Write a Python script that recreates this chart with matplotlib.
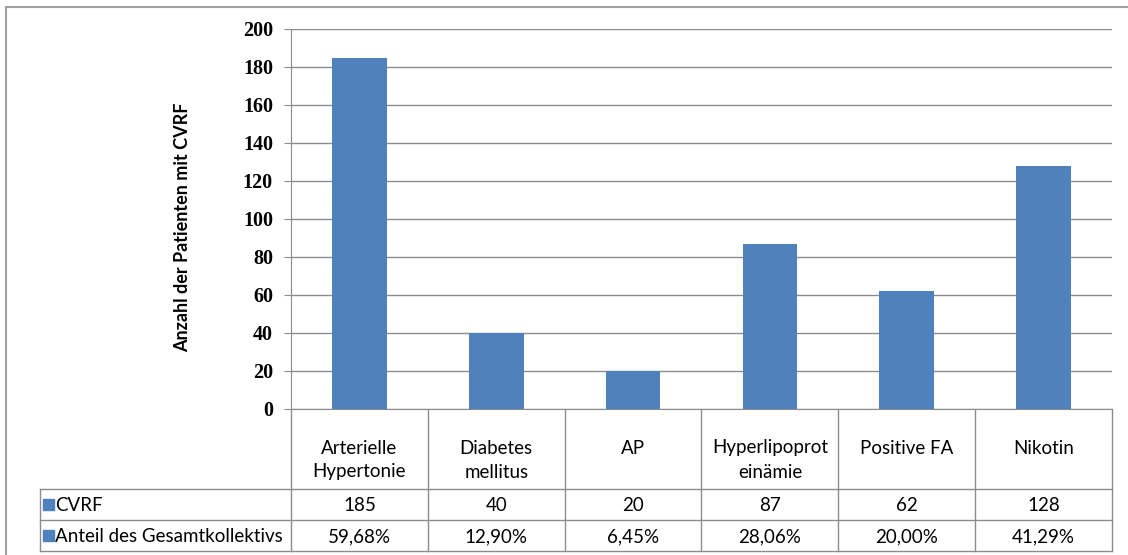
import matplotlib
matplotlib.use('Agg')
import matplotlib.pyplot as plt
from matplotlib.transforms import blended_transform_factory
from matplotlib.patches import Rectangle

# risk factor counts and share of the whole cohort
categories = ['Arterielle\nHypertonie', 'Diabetes\nmellitus', 'AP',
              'Hyperlipoprot\neinämie', 'Positive FA', 'Nikotin']
cvrf = [185, 40, 20, 87, 62, 128]
anteil = ['59,68%', '12,90%', '6,45%', '28,06%', '20,00%', '41,29%']
row_labels = ['CVRF', 'Anteil des Gesamtkollektivs']
yticks = [0, 20, 40, 60, 80, 100, 120, 140, 160, 180, 200]

W, H = 1128, 555
blue = '#4F81BD'
grid = '#8C8C8C'
txt_font = 'Lato'
fs = 13.5

fig = plt.figure(figsize=(W / 100, H / 100), dpi=100)

# overlay in pixel units for the frame and the data table
tab = fig.add_axes([0, 0, 1, 1])
tab.set_xlim(0, W)
tab.set_ylim(H, 0)
tab.axis('off')

ax = fig.add_axes([291 / W, 1 - 409 / H, (1112 - 291) / W, (409 - 29) / H])
x = list(range(len(cvrf)))
ax.bar(x, cvrf, width=0.4, color=blue, zorder=3)
ax.set_xlim(-0.5, len(cvrf) - 0.5)
ax.set_ylim(0, 200)
ax.set_yticks(yticks)
ax.set_yticklabels([str(t) for t in yticks], family='Liberation Serif',
                   weight='bold', fontsize=14.5)
ax.tick_params(axis='y', length=5, color=grid, pad=8)
ax.tick_params(axis='x', length=0, labelbottom=False)
ax.yaxis.grid(True, color=grid, linewidth=1)
ax.set_axisbelow(True)
for s in ['top', 'right']:
    ax.spines[s].set_visible(False)
for s in ['left', 'bottom']:
    ax.spines[s].set_color(grid)
ax.set_ylabel('Anzahl der Patienten mit CVRF', family=txt_font,
              weight='bold', fontsize=13)
ax.yaxis.set_label_coords(-0.122, 0.479)

# outer chart frame
tab.plot([6, 6], [7, H], color='#A0A0A0', lw=1.5)
tab.plot([6, W], [7, 7], color='#A0A0A0', lw=1.5)

# data table below the axis
bt = blended_transform_factory(ax.transData, tab.transData)
y_head, y_r1, y_r2, y_bot = 409, 489, 520, 551
n = len(cvrf)
lc = '#8C8C8C'
for i in range(n + 1):
    tab.plot([i - 0.5, i - 0.5], [y_head, y_bot], color=lc, lw=1,
             transform=bt, clip_on=False)
for yy in (y_r1, y_r2, y_bot):
    tab.plot([40, 1112], [yy, yy], color=lc, lw=1, clip_on=False)
tab.plot([40, 40], [y_r1, y_bot], color=lc, lw=1)

for i, lab in enumerate(categories):
    for k, line in enumerate(lab.split('\n')):
        tab.text(i, 448 + 24 * k, line, transform=bt, ha='center',
                 va='center', fontsize=fs, family=txt_font)
    tab.text(i, (y_r1 + y_r2) / 2 + 1, str(cvrf[i]), transform=bt,
             ha='center', va='center', fontsize=fs, family=txt_font)
    tab.text(i, (y_r2 + y_bot) / 2 + 1, anteil[i], transform=bt,
             ha='center', va='center', fontsize=fs, family=txt_font)

for yy0, yy1, lab in [(y_r1, y_r2, row_labels[0]), (y_r2, y_bot, row_labels[1])]:
    yc = (yy0 + yy1) / 2
    tab.add_patch(Rectangle((43, yc - 5.5), 11, 11, color=blue))
    tab.text(55, yc + 1, lab, ha='left', va='center', fontsize=fs,
             family=txt_font)

fig.savefig('out.png', dpi=100)
